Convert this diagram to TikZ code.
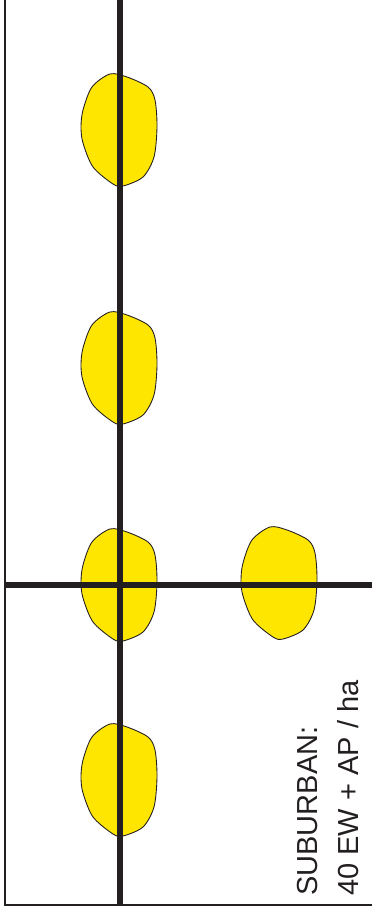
\documentclass[tikz,border=0pt]{standalone}
\usepackage{fontspec}
\setmainfont{Liberation Sans}
\usepackage{tikz}
\definecolor{gelbFleck}{RGB}{255,230,0}
\definecolor{randGrau}{RGB}{35,31,32}

\begin{document}
\begin{tikzpicture}[
  fleck/.style={fill=gelbFleck,draw=randGrau,line width=0.5pt},
  achse/.style={draw=randGrau,line width=3.4pt},
  rahmen/.style={draw=randGrau,line width=0.9pt},
  fleck/.pic={
    \path[fleck] plot[smooth cycle,tension=0.5] coordinates {
      (-0.16,1.12) (0.18,1.06) (0.6,0.86) (0.74,0.6) (0.78,0.06)
      (0.72,-0.54) (0.5,-0.94) (0.1,-1.12) (-0.1,-1.08) (-0.5,-0.74)
      (-0.7,-0.26) (-0.74,0.06) (-0.7,0.4) (-0.52,0.86)};
  }]
  \useasboundingbox (0,0) rectangle (7.44,18.24);

  % Flecken
  \foreach \y in {15.64,10.88,6.54,2.64} {
    \pic at (2.36,\y) {fleck};
  }
  \pic at (5.56,6.58) {fleck};

  % Rahmen
  \coordinate (ol) at (0.1,18.24);
  \coordinate (ul) at (0.1,0.14);
  \coordinate (ur) at (7.44,0.14);
  \draw[rahmen] (ol) -- (ul) -- (ur);

  % Achsen
  \coordinate (vo) at (2.4,18.24);
  \coordinate (vu) at (2.4,0.14);
  \coordinate (hl) at (0.1,6.54);
  \coordinate (hr) at (7.44,6.54);
  \draw[achse] (vo) -- (vu);
  \draw[achse] (hl) -- (hr);

  \node[rotate=90,anchor=north west,inner sep=0pt,align=left,
        font=\fontsize{16.5pt}{23pt}\selectfont,text=randGrau] (text)
    at (5.94,0.32) {SUBURBAN:\\40 EW + AP / ha};
\end{tikzpicture}
\end{document}
